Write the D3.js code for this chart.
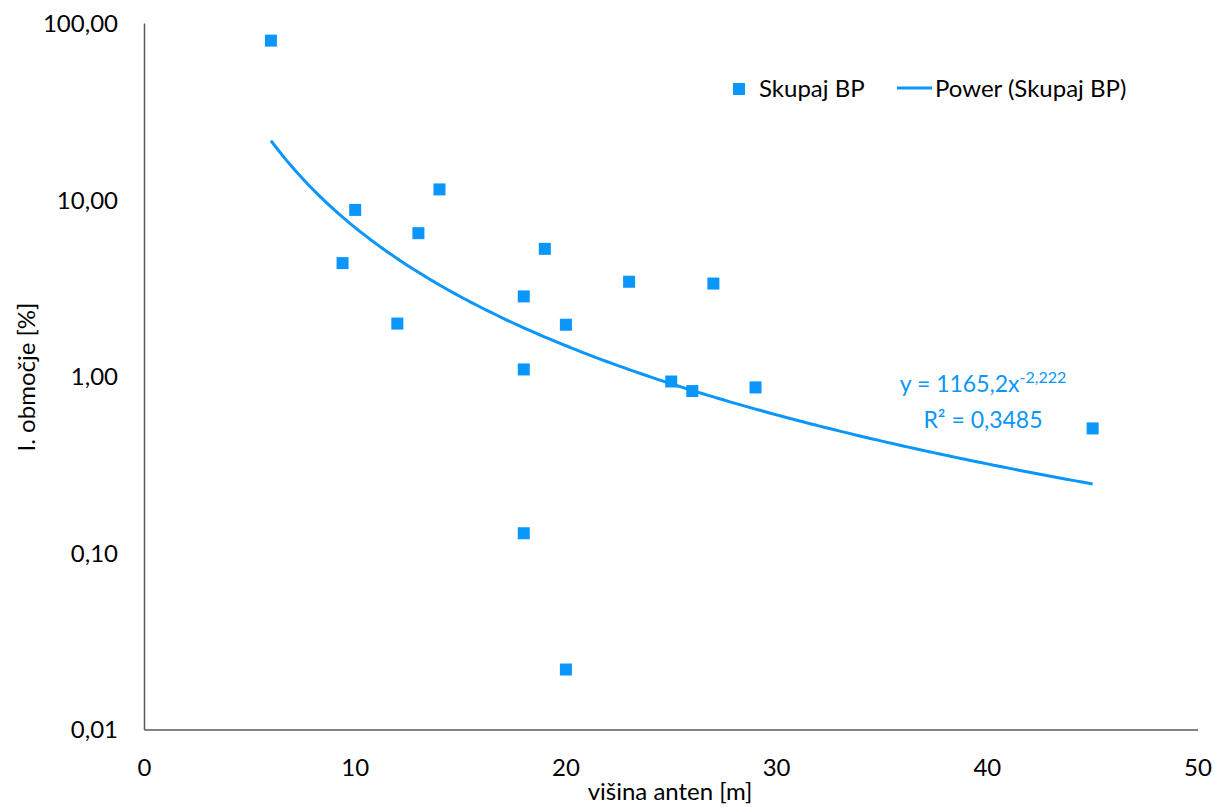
<!DOCTYPE html>
<html><head><meta charset="utf-8">
<script src="https://cdn.jsdelivr.net/npm/d3@7"></script>
<style>body{margin:0;background:#fff}text{font-family:Lato,"Open Sans",sans-serif}</style>
</head><body><svg id="c" width="1214" height="807"></svg>
<script>
const heights = [6, 9.4, 10, 12, 13, 14, 18, 18, 18, 19, 20, 20, 23, 25, 26, 27, 29, 45];
const shares  = [80, 4.4, 8.8, 2.0, 6.5, 11.5, 2.85, 1.1, 0.13, 5.3, 1.97, 0.022, 3.45, 0.94, 0.83, 3.37, 0.87, 0.51];
const xTicks = [0, 10, 20, 30, 40, 50];
const yTicks = [0.01, 0.1, 1, 10, 100];
const fitA = 1165.2, fitB = -2.222;
const fitRange = [6, 45];
const eqLabel = "y = 1165,2x", eqExp = "-2,222", r2Label = "R² = 0,3485";
const seriesName = "Skupaj BP", trendName = "Power (Skupaj BP)";
const color = "#0a96fa";

const svg = d3.select("#c");
const x = d3.scaleLinear().domain([0, 50]).range([144.5, 1198]);
const y = d3.scaleLog().domain([0.01, 100]).range([730, 23.5]);
const fmt = v => v.toFixed(2).replace(".", ",");

// axes
svg.append("line").attr("x1", x(0)).attr("x2", x(0)).attr("y1", y(100)).attr("y2", y(0.01)).attr("stroke", "#595959").attr("stroke-width", 1.5);
svg.append("line").attr("x1", x(0)).attr("x2", x(50)).attr("y1", y(0.01)).attr("y2", y(0.01)).attr("stroke", "#595959").attr("stroke-width", 1.5);

svg.selectAll(".yt").data(yTicks).join("text").attr("x", 118).attr("y", d => y(d)).attr("dy", "0.35em")
  .attr("text-anchor", "end").attr("font-size", 24).attr("fill", "#000").text(fmt);
svg.selectAll(".xt").data(xTicks).join("text").attr("x", d => x(d)).attr("y", 776)
  .attr("text-anchor", "middle").attr("font-size", 24).attr("fill", "#000").text(d => d);

svg.append("text").attr("x", 670).attr("y", 800).attr("text-anchor", "middle").attr("font-size", 24).text("višina anten [m]");
svg.append("text").attr("transform", "translate(35,377) rotate(-90)").attr("text-anchor", "middle").attr("font-size", 24).text("I. območje [%]");

// trendline
const fitX = d3.range(fitRange[0], fitRange[1] + 0.001, 0.25);
svg.append("path").datum(fitX).attr("fill", "none").attr("stroke", color).attr("stroke-width", 3)
  .attr("d", d3.line().x(d => x(d)).y(d => y(fitA * Math.pow(d, fitB))));

// points
svg.selectAll(".pt").data(heights.map((h, i) => [h, shares[i]])).join("rect")
  .attr("x", d => x(d[0]) - 6).attr("y", d => y(d[1]) - 6).attr("width", 12).attr("height", 12).attr("fill", color);

// equation
const eq = svg.append("text").attr("x", 983).attr("y", 392).attr("text-anchor", "middle").attr("font-size", 23).attr("fill", color);
eq.append("tspan").text(eqLabel);
eq.append("tspan").attr("font-size", 16).attr("dy", -9).text(eqExp);
svg.append("text").attr("x", 983).attr("y", 428).attr("text-anchor", "middle").attr("font-size", 23).attr("fill", color).text(r2Label);

// legend
svg.append("rect").attr("x", 733).attr("y", 83).attr("width", 12).attr("height", 12).attr("fill", color);
svg.append("text").attr("x", 759).attr("y", 97).attr("font-size", 24).text(seriesName);
svg.append("line").attr("x1", 897).attr("x2", 932).attr("y1", 88).attr("y2", 88).attr("stroke", color).attr("stroke-width", 3);
svg.append("text").attr("x", 935).attr("y", 97).attr("font-size", 24).text(trendName);
</script></body></html>
